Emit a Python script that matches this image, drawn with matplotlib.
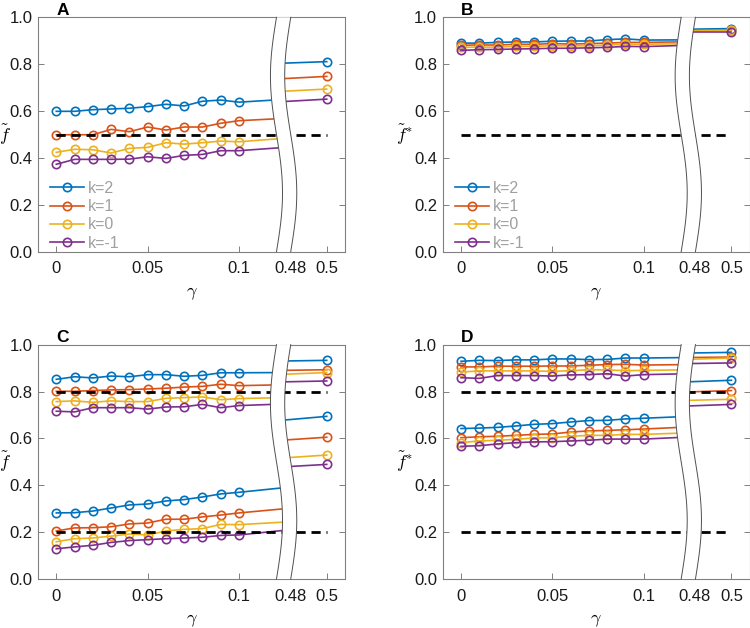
import numpy as np
import matplotlib
matplotlib.use('Agg')
import matplotlib.pyplot as plt
from matplotlib.patches import Polygon

plt.rcParams['font.family'] = ['Liberation Sans', 'DejaVu Sans']
plt.rcParams['mathtext.fontset'] = 'cm'

# gamma values shown with markers, plus hidden points where the line meets the axis break
gamma = [0.0, 0.01, 0.02, 0.03, 0.04, 0.05, 0.06, 0.07, 0.08, 0.09, 0.10]
gamma_ends = [0.125, 0.475, 0.5]   # left tail (under break), right start (under break), last point

k_labels = ['k=2', 'k=1', 'k=0', 'k=-1']
colors = ['#0072BD', '#D95319', '#EDB120', '#7E2F8E']

# panel A
a_main = [
    [0.599, 0.599, 0.606, 0.609, 0.612, 0.619, 0.629, 0.622, 0.642, 0.647, 0.638],
    [0.499, 0.499, 0.499, 0.522, 0.512, 0.532, 0.519, 0.532, 0.532, 0.548, 0.559],
    [0.424, 0.437, 0.435, 0.421, 0.441, 0.445, 0.465, 0.459, 0.465, 0.472, 0.469],
    [0.373, 0.394, 0.394, 0.394, 0.395, 0.405, 0.398, 0.411, 0.415, 0.431, 0.431],
]
a_ends = [[0.650, 0.804, 0.811], [0.569, 0.738, 0.748], [0.484, 0.684, 0.694], [0.445, 0.640, 0.651]]

# panel B
b_main = [
    [0.890, 0.890, 0.893, 0.895, 0.895, 0.898, 0.899, 0.899, 0.905, 0.908, 0.903],
    [0.881, 0.882, 0.882, 0.885, 0.885, 0.888, 0.886, 0.888, 0.890, 0.893, 0.893],
    [0.872, 0.873, 0.873, 0.876, 0.876, 0.879, 0.878, 0.879, 0.882, 0.885, 0.885],
    [0.859, 0.862, 0.863, 0.865, 0.866, 0.868, 0.868, 0.870, 0.872, 0.876, 0.875],
]
b_ends = [[0.904, 0.949, 0.952], [0.896, 0.945, 0.947], [0.888, 0.942, 0.945], [0.881, 0.936, 0.936]]

# panel C (upper group, lower group)
c_main_hi = [
    [0.852, 0.863, 0.858, 0.866, 0.863, 0.872, 0.872, 0.865, 0.869, 0.880, 0.880],
    [0.801, 0.801, 0.804, 0.807, 0.808, 0.811, 0.814, 0.819, 0.822, 0.831, 0.825],
    [0.757, 0.760, 0.754, 0.760, 0.757, 0.757, 0.771, 0.774, 0.777, 0.765, 0.770],
    [0.716, 0.713, 0.731, 0.731, 0.731, 0.725, 0.734, 0.735, 0.745, 0.731, 0.740],
]
c_ends_hi = [[0.881, 0.930, 0.933], [0.829, 0.890, 0.893], [0.774, 0.873, 0.881], [0.747, 0.841, 0.845]]
c_main_lo = [
    [0.282, 0.283, 0.290, 0.303, 0.316, 0.320, 0.333, 0.339, 0.350, 0.363, 0.370],
    [0.205, 0.218, 0.219, 0.223, 0.235, 0.239, 0.255, 0.255, 0.265, 0.273, 0.282],
    [0.159, 0.172, 0.175, 0.183, 0.192, 0.188, 0.205, 0.212, 0.215, 0.233, 0.232],
    [0.129, 0.137, 0.144, 0.156, 0.164, 0.168, 0.172, 0.175, 0.178, 0.186, 0.188],
]
c_ends_lo = [[0.390, 0.677, 0.694], [0.300, 0.592, 0.605], [0.243, 0.516, 0.529], [0.208, 0.478, 0.489]]

# panel D (upper group, lower group)
d_main_hi = [
    [0.929, 0.933, 0.932, 0.935, 0.935, 0.939, 0.939, 0.936, 0.937, 0.943, 0.943],
    [0.905, 0.905, 0.908, 0.908, 0.908, 0.909, 0.909, 0.912, 0.915, 0.916, 0.913],
    [0.883, 0.888, 0.888, 0.888, 0.888, 0.886, 0.889, 0.893, 0.892, 0.889, 0.890],
    [0.859, 0.856, 0.868, 0.868, 0.868, 0.866, 0.871, 0.872, 0.876, 0.866, 0.872],
]
d_ends_hi = [[0.945, 0.964, 0.967], [0.915, 0.945, 0.947], [0.893, 0.937, 0.943], [0.876, 0.919, 0.922]]
d_main_lo = [
    [0.642, 0.644, 0.647, 0.653, 0.660, 0.663, 0.670, 0.676, 0.677, 0.683, 0.686],
    [0.603, 0.607, 0.609, 0.613, 0.617, 0.619, 0.627, 0.632, 0.634, 0.637, 0.640],
    [0.582, 0.589, 0.592, 0.596, 0.602, 0.603, 0.609, 0.613, 0.613, 0.617, 0.617],
    [0.566, 0.569, 0.576, 0.582, 0.585, 0.586, 0.589, 0.592, 0.597, 0.597, 0.597],
]
d_ends_lo = [[0.694, 0.841, 0.848], [0.649, 0.798, 0.804], [0.624, 0.762, 0.767], [0.606, 0.738, 0.745]]

ref_a = [0.5]
ref_b = [0.5]
ref_c = [0.8, 0.2]
ref_d = [0.8, 0.2]

xtick_vals = [0, 0.05, 0.1, 0.48, 0.5]
xtick_labels = ['0', '0.05', '0.1', '0.48', '0.5']
ytick_vals = [0.0, 0.2, 0.4, 0.6, 0.8, 1.0]

# broken x axis: values past the break are shifted left
SHIFT = 0.352
def xmap(g):
    g = np.asarray(g, dtype=float)
    return np.where(g > 0.3, g - SHIFT, g)

XMIN, XMAX = -0.01, 0.158
BRK_X, BRK_W, BRK_A = 0.1205, 0.0078, 0.0033
yy = np.linspace(0, 1, 80)
left_curve = BRK_X + BRK_A * np.sin(2 * np.pi * yy)
right_curve = left_curve + BRK_W

fig = plt.figure(figsize=(7.5, 6.28), dpi=100)
W, H = 0.4093, 0.3732
positions = {'A': [0.0507, 0.5992, W, H], 'B': [0.5903, 0.5992, W, H],
             'C': [0.0507, 0.0780, W, H], 'D': [0.5903, 0.0780, W, H]}


def draw_panel(letter, groups, refs, ylabel, ylab_x, legend):
    ax = fig.add_axes(positions[letter])
    left_clip = Polygon(np.column_stack([np.r_[XMIN - 1, left_curve, XMIN - 1], np.r_[0, yy, 1]]),
                        transform=ax.transData)
    right_clip = Polygon(np.column_stack([np.r_[XMAX + 1, right_curve, XMAX + 1], np.r_[0, yy, 1]]),
                         transform=ax.transData)
    for main, ends in groups:
        for i in range(4):
            xs = np.r_[xmap(gamma), xmap(gamma_ends[0])]
            ys = main[i] + [ends[i][0]]
            ln, = ax.plot(xs, ys, '-o', color=colors[i], lw=1.2, ms=6, mfc='none', mew=1.2,
                          markevery=list(range(len(gamma))), zorder=3, label=k_labels[i])
            ln.set_clip_path(left_clip)
            ln2, = ax.plot(xmap(gamma_ends[1:]), ends[i][1:], '-o', color=colors[i], lw=1.2, ms=6,
                           mfc='none', mew=1.2, markevery=[1], zorder=3)
            ln2.set_clip_path(right_clip)
    for r in refs:
        ax.plot(xmap([0, 0.5]), [r, r], color='black', lw=2, dashes=(3.3, 2.1), zorder=4)

    # the break: white band bounded by two wavy lines
    band = Polygon(np.column_stack([np.r_[left_curve, right_curve[::-1]], np.r_[yy, yy[::-1]]]),
                   closed=True, facecolor='white', edgecolor='none', zorder=5, clip_on=False)
    ax.add_patch(band)
    ax.plot(left_curve, yy, color='#505050', lw=0.7, zorder=6, clip_on=False)
    ax.plot(right_curve, yy, color='#505050', lw=0.7, zorder=6, clip_on=False)

    ax.set_xlim(XMIN, XMAX)
    ax.set_ylim(0, 1)
    ax.set_xticks(xmap(xtick_vals))
    ax.set_xticklabels(xtick_labels)
    ax.set_yticks(ytick_vals)
    ax.set_yticklabels(['%.1f' % v for v in ytick_vals])
    ax.tick_params(direction='in', length=4, width=0.7, color='#808080', labelsize=12,
                   right=True, labelcolor='#1a1a1a')
    ax.tick_params(axis='x', pad=7)
    ax.tick_params(axis='y', pad=4)
    ax.xaxis.get_major_ticks()[3].tick1line.set_visible(False)
    for s in ax.spines.values():
        s.set_color('#808080')
        s.set_linewidth(0.8)

    ax.set_xlabel(r'$\gamma$', fontsize=13, labelpad=6)
    ax.set_ylabel(ylabel, fontsize=13, rotation=0, va='center', ha='center')
    ax.yaxis.set_label_coords(ylab_x, 0.5)
    ax.text(0.06, 1.01, letter, transform=ax.transAxes, fontsize=12.5, fontweight='bold',
            va='baseline', ha='left')

    if legend:
        handles = ax.get_lines()[0:8:2]
        leg = ax.legend(handles, k_labels, loc='lower left', bbox_to_anchor=(0.04, 0.005),
                        frameon=False, fontsize=11.5, handlelength=2.1, handletextpad=0.25,
                        labelspacing=0.2, borderaxespad=0, borderpad=0)
        for t in leg.get_texts():
            t.set_color('#a0a0a0')
        for h in leg.legend_handles:
            h.set_clip_path(None)
    return ax


draw_panel('A', [(a_main, a_ends)], ref_a, r'$\tilde{f}$', -0.108, True)
draw_panel('B', [(b_main, b_ends)], ref_b, r'$\tilde{f}^{*}$', -0.126, True)
draw_panel('C', [(c_main_hi, c_ends_hi), (c_main_lo, c_ends_lo)], ref_c, r'$\tilde{f}$', -0.108, False)
draw_panel('D', [(d_main_hi, d_ends_hi), (d_main_lo, d_ends_lo)], ref_d, r'$\tilde{f}^{*}$', -0.126, False)

fig.savefig('out.png', dpi=100)
